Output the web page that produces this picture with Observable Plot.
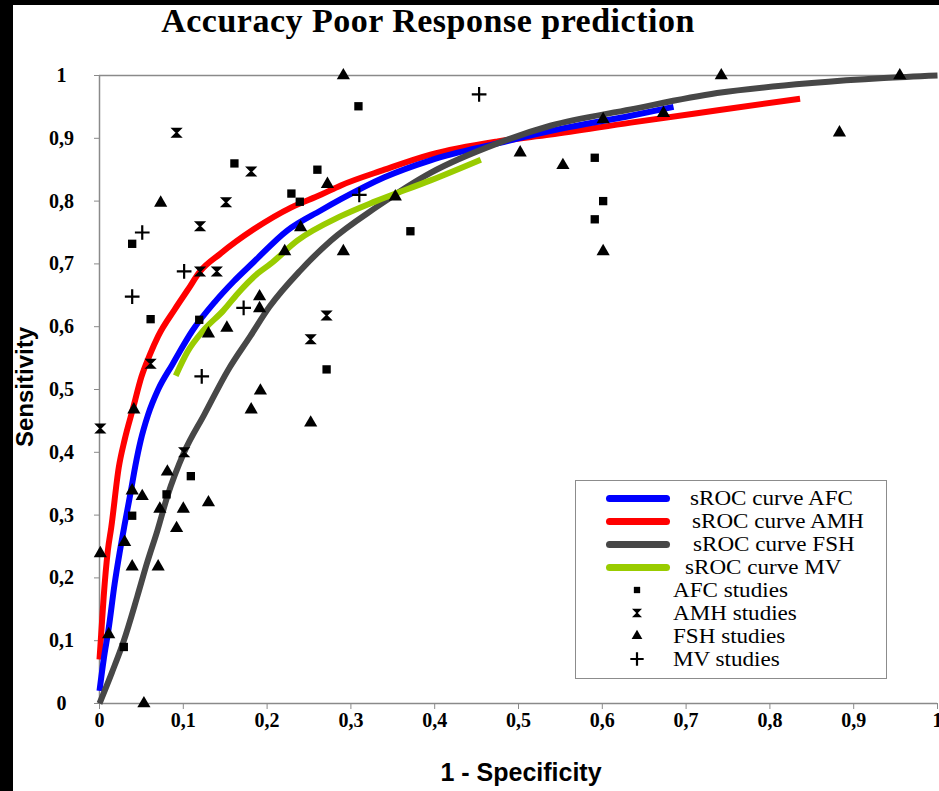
<!DOCTYPE html>
<html>
<head>
<meta charset="utf-8">
<script src="https://cdn.jsdelivr.net/npm/d3@7"></script>
<script src="https://cdn.jsdelivr.net/npm/@observablehq/plot@0.6"></script>
<style>
  body { margin: 0; background: #fff; }
  #wrap { position: relative; width: 939px; height: 791px; overflow: hidden; background: #fff; }
  #title { position: absolute; left: 0; top: 1px; width: 856px; text-align: center;
           font: bold 34px "Liberation Serif", "Times New Roman", serif; line-height: 40px; letter-spacing: 0.5px; color: #000; }
  #chart { position: absolute; left: 0; top: 40px; }
  .axtitle { position: absolute; font: bold 24px "Liberation Sans", Arial, sans-serif; color: #000; white-space: nowrap; }
  #legend { position: absolute; left: 575px; top: 480px; width: 312px; height: 199px;
            border: 1.5px solid #8c8c8c; background: #fff; box-sizing: border-box; }
  .lgtext { position: absolute; font: 21px "Liberation Serif", "Times New Roman", serif; color: #000; white-space: nowrap;
            line-height: 20px; transform: scaleX(1.1); transform-origin: 0 50%; }
  .blk { position: absolute; background: #000; }
</style>
</head>
<body>
<div id="wrap">
  <div id="title">Accuracy Poor Response prediction</div>
  <div id="chart"></div>
  <div class="axtitle" id="ytitle" style="left:25px;top:387px;transform:translate(-50%,-50%) rotate(-90deg);">Sensitivity</div>
  <div class="axtitle" id="xtitle" style="left:521px;top:772px;transform:translate(-50%,-50%);font-size:25px;">1 - Specificity</div>
  <div id="legend"></div>
  <div class="blk" style="left:0;top:0;width:13px;height:791px;"></div>
  <div class="blk" style="left:0;top:0;width:939px;height:5px;"></div>
</div>
<script>
// ---------- data ----------
const ticks = [0, 0.1, 0.2, 0.3, 0.4, 0.5, 0.6, 0.7, 0.8, 0.9, 1];

const afcCurve = [[0,0.02],[0.005,0.07],[0.011,0.12],[0.018,0.19],[0.024,0.24],[0.03,0.285],[0.037,0.335],[0.043,0.38],[0.049,0.418],[0.058,0.46],[0.07,0.50],[0.087,0.54],[0.111,0.594],[0.138,0.64],[0.16,0.672],[0.184,0.703],[0.224,0.753],[0.264,0.785],[0.288,0.803],[0.34,0.838],[0.395,0.865],[0.475,0.892],[0.55,0.915],[0.634,0.936],[0.685,0.95]];
const amhCurve = [[0,0.07],[0.002,0.11],[0.005,0.17],[0.01,0.244],[0.014,0.28],[0.023,0.376],[0.03,0.42],[0.04,0.47],[0.05,0.52],[0.06,0.555],[0.07,0.585],[0.09,0.628],[0.105,0.658],[0.12,0.688],[0.144,0.716],[0.184,0.755],[0.229,0.79],[0.264,0.81],[0.288,0.825],[0.34,0.85],[0.395,0.874],[0.475,0.895],[0.538,0.906],[0.634,0.925],[0.74,0.945],[0.836,0.963]];
const fshCurve = [[0,0],[0.015,0.05],[0.029,0.1],[0.045,0.17],[0.057,0.225],[0.069,0.275],[0.081,0.33],[0.101,0.40],[0.125,0.46],[0.153,0.53],[0.18,0.585],[0.203,0.632],[0.24,0.69],[0.276,0.737],[0.33,0.79],[0.395,0.845],[0.475,0.892],[0.538,0.92],[0.634,0.946],[0.737,0.972],[0.85,0.988],[0.936,0.996],[1,1]];
const mvCurve = [[0.091,0.522],[0.105,0.56],[0.124,0.594],[0.148,0.626],[0.165,0.653],[0.189,0.685],[0.204,0.70],[0.236,0.737],[0.288,0.776],[0.33,0.80],[0.395,0.833],[0.455,0.866]];

const afcStudies = [[0.039,0.732],[0.161,0.860],[0.26,0.850],[0.229,0.812],[0.239,0.799],[0.061,0.612],[0.119,0.611],[0.271,0.532],[0.109,0.362],[0.08,0.333],[0.039,0.299],[0.029,0.09],[0.309,0.951],[0.371,0.752],[0.591,0.869],[0.601,0.80],[0.591,0.771]];
const amhStudies = [[0.092,0.909],[0.181,0.847],[0.151,0.798],[0.12,0.760],[0.12,0.688],[0.14,0.688],[0.061,0.541],[0.001,0.438],[0.101,0.40],[0.271,0.618],[0.252,0.58]];
const fshStudies = [[0.291,1.0],[0.742,1.0],[0.955,1.0],[0.073,0.797],[0.272,0.827],[0.24,0.758],[0.221,0.72],[0.191,0.648],[0.191,0.629],[0.152,0.598],[0.13,0.589],[0.192,0.498],[0.181,0.468],[0.252,0.447],[0.041,0.468],[0.081,0.369],[0.039,0.339],[0.051,0.33],[0.072,0.31],[0.10,0.31],[0.13,0.32],[0.092,0.279],[0.03,0.257],[0.001,0.239],[0.039,0.218],[0.07,0.218],[0.011,0.11],[0.053,0.0],[0.353,0.807],[0.291,0.72],[0.502,0.877],[0.553,0.857],[0.601,0.93],[0.601,0.72],[0.673,0.94],[0.883,0.909]];
const mvStudies = [[0.051,0.75],[0.039,0.648],[0.101,0.688],[0.172,0.63],[0.122,0.521],[0.453,0.97],[0.31,0.81]];

const curveLabels = ["sROC curve AFC", "sROC curve AMH", "sROC curve FSH", "sROC curve MV"];
const studyLabels = ["AFC studies", "AMH studies", "FSH studies", "MV studies"];
const curveColors = ["#0000ff", "#ff0000", "#474747", "#99cc00"];

// ---------- symbols ----------
const hourglass = {
  draw(ctx, size) {
    const r = Math.sqrt(size / Math.PI);
    ctx.moveTo(-r, -r); ctx.lineTo(r, -r); ctx.lineTo(-r, r); ctx.lineTo(r, r); ctx.closePath();
  }
};

const fmt = d => d === 0 || d === 1 ? String(d) : d3.format(".1f")(d).replace(".", ",");
const axisGray = "#8a8a8a";
const xy = {x: d => d[0], y: d => d[1]};
const lineOpts = (c) => ({...xy, stroke: c, strokeWidth: 6, curve: "monotone-x", strokeLinecap: "butt", strokeLinejoin: "round"});

const chart = Plot.plot({
  width: 939, height: 751,
  marginTop: 35, marginBottom: 88, marginLeft: 99, marginRight: 2,
  x: {domain: [0, 1]},
  y: {domain: [0, 1]},
  style: {fontFamily: "'Liberation Serif', 'Times New Roman', serif", fontSize: "20px", fontWeight: "bold", color: "#000", background: "transparent", overflow: "visible"},
  marks: [
    Plot.ruleY([1], {stroke: axisGray, strokeWidth: 1.5}),
    Plot.ruleX([0], {stroke: axisGray, strokeWidth: 1.5}),
    Plot.ruleY([0], {stroke: axisGray, strokeWidth: 1.5}),
    Plot.axisX({ticks, tickFormat: fmt, tickSize: 6, tickPadding: 3, stroke: axisGray, label: null, fill: "#000"}),
    Plot.axisY({ticks, tickFormat: fmt, tickSize: 5, tickPadding: 33, textAnchor: "middle", stroke: axisGray, label: null, fill: "#000"}),
    Plot.line(amhCurve, lineOpts(curveColors[1])),
    Plot.line(afcCurve, lineOpts(curveColors[0])),
    Plot.line(fshCurve, lineOpts(curveColors[2])),
    Plot.line(mvCurve, lineOpts(curveColors[3])),
    Plot.dot(afcStudies, {...xy, symbol: "square", r: 4.7, fill: "#000"}),
    Plot.dot(amhStudies, {...xy, symbol: hourglass, r: 4.2, fill: "#000", stroke: "#000", strokeWidth: 1.6}),
    Plot.dot(fshStudies, {...xy, symbol: "triangle", r: 4.9, fill: "#000"}),
    Plot.dot(mvStudies, {...xy, symbol: "plus", r: 4.8, stroke: "#000", strokeWidth: 2.2})
  ]
});
document.getElementById("chart").appendChild(chart);

// ---------- legend ----------
const legend = d3.select("#legend");
const lineRowsY = [17, 40, 63, 86];
const lineTextX = [114, 116, 117, 109];
curveLabels.forEach((lab, i) => {
  legend.append("div").style("position", "absolute").style("left", "30px").style("top", (lineRowsY[i] - 3.5) + "px")
    .style("width", "64px").style("height", "7px").style("border-radius", "3.5px").style("background", curveColors[i]);
  legend.append("div").attr("class", "lgtext").style("left", lineTextX[i] + "px").style("top", (lineRowsY[i] - 10) + "px").text(lab);
});
const studyRowsY = [109, 132, 155, 178];
const studySymbols = [d3.symbolSquare, hourglass, d3.symbolTriangle, d3.symbolPlus];
const studySizes = [40, 40, 50, 60];
studyLabels.forEach((lab, i) => {
  const svg = legend.append("svg").style("position", "absolute").style("left", "51px").style("top", (studyRowsY[i] - 10) + "px")
    .attr("width", 20).attr("height", 20);
  const filled = i !== 3;
  svg.append("path").attr("transform", "translate(10,10)")
    .attr("d", d3.symbol(studySymbols[i], studySizes[i])())
    .attr("fill", filled ? "#000" : "none").attr("stroke", "#000").attr("stroke-width", i === 3 ? 2.2 : (i === 1 ? 1.2 : 0));
  legend.append("div").attr("class", "lgtext").style("left", "97px").style("top", (studyRowsY[i] - 10) + "px").text(lab);
});
</script>
</body>
</html>
